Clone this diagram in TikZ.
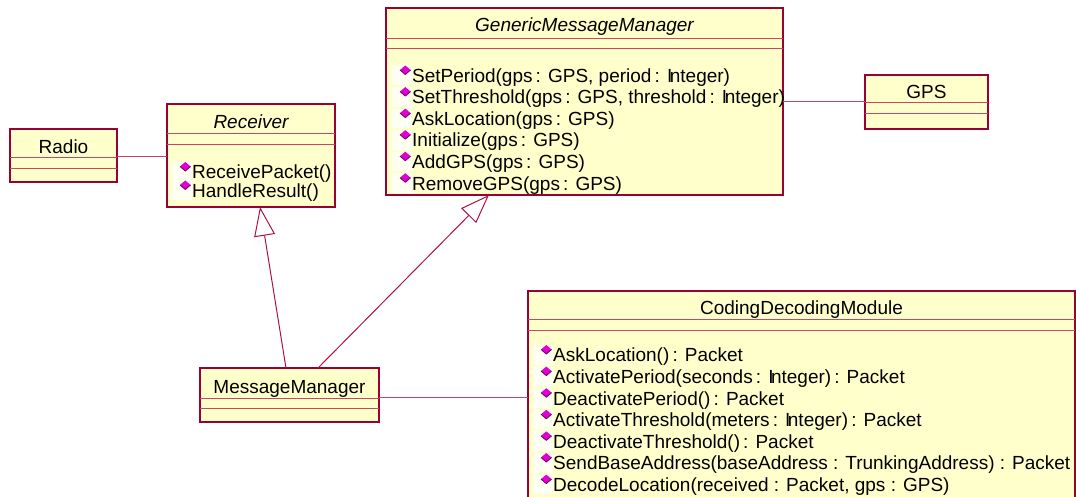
\documentclass[tikz,border=0pt]{standalone}
\usepackage{fontspec}
\setmainfont{Liberation Sans}
\usetikzlibrary{arrows.meta}
\definecolor{clsfill}{RGB}{255,255,204}
\definecolor{clsborder}{RGB}{153,0,51}
\definecolor{clsdiv}{RGB}{196,72,104}
\definecolor{conn}{RGB}{176,16,72}
\definecolor{opfill}{RGB}{225,0,210}
\definecolor{opedge}{RGB}{110,0,100}
\definecolor{iconbg}{RGB}{255,255,242}
\newcommand\Intg{I\kern-2.5pt nteger}
\newcommand\opicon[2]{%
  \fill[iconbg] (#1-20,#2-10) rectangle (#1,#2+9.5);
  \fill[opfill] (#1-6.7,#2-10) -- (#1-1.4,#2-5.5) -- (#1-6.7,#2-1) -- (#1-12,#2-5.5) -- cycle;
  \draw[opedge, line width=0.8pt, line join=round] (#1-12,#2-5.5) -- (#1-6.7,#2-1) -- (#1-1.4,#2-5.5);
}
\begin{document}
\begin{tikzpicture}[x=1pt,y=-1pt,
  cls/.style={draw=clsborder, fill=clsfill, line width=1.3pt, inner sep=0pt, outer sep=0pt, anchor=north west, rectangle},
  div/.style={draw=clsdiv, line width=1pt},
  title/.style={inner sep=0pt, text height=13.6pt, text depth=0pt, font=\fontsize{19}{22}\selectfont},
  ititle/.style={title, font=\fontsize{19}{22}\selectfont\itshape},
  op/.style={title, anchor=west},
  assoc/.style={draw=clsdiv, line width=1pt},
  gen/.style={draw=conn, line width=1pt, -{Triangle[open, length=29pt, width=21pt]}},
]
\useasboundingbox (0,0) rectangle (1076,497);
\clip (0,0) rectangle (1076,497);

% Radio
\node[cls, minimum width=107pt, minimum height=53pt] (radio) at (10,129) {};
\draw[div] (radio.west |- 0,158) -- (radio.east |- 0,158);
\draw[div] (radio.west |- 0,169) -- (radio.east |- 0,169);
\node[title] (radio-t) at (63.5,147) {Radio};

% Receiver
\node[cls, minimum width=168pt, minimum height=103pt] (receiver) at (167,104) {};
\draw[div] (receiver.west |- 0,134) -- (receiver.east |- 0,134);
\draw[div] (receiver.west |- 0,145) -- (receiver.east |- 0,145);
\node[ititle] (receiver-t) at (251,122) {Receiver};
\foreach \t [count=\i from 0] in {ReceivePacket(), HandleResult()} {
  \pgfmathsetmacro\yy{172+18.5*\i}
  \opicon{192}{\yy}
  \node[op] (receiver-op\i) at (192,\yy) {\t};
}

% GenericMessageManager
\node[cls, minimum width=397pt, minimum height=187pt] (gmm) at (386,8) {};
\draw[div] (gmm.west |- 0,39) -- (gmm.east |- 0,39);
\draw[div] (gmm.west |- 0,49) -- (gmm.east |- 0,49);
\node[ititle] (gmm-t) at (584.5,25) {GenericMessageManager};
\foreach \t [count=\i from 0] in {{SetPeriod(gps\,: GPS, period\,: \Intg)}, {SetThreshold(gps\,: GPS, threshold\,: \Intg)}, {AskLocation(gps\,: GPS)}, {Initialize(gps\,: GPS)}, {AddGPS(gps\,: GPS)}, {RemoveGPS(gps\,: GPS)}} {
  \pgfmathsetmacro\yy{75.5+21.55*\i}
  \opicon{412}{\yy}
  \node[op] (gmm-op\i) at (412,\yy) {\t};
}

% GPS
\node[cls, minimum width=123pt, minimum height=54pt] (gps) at (865,75) {};
\draw[div] (gps.west |- 0,103) -- (gps.east |- 0,103);
\draw[div] (gps.west |- 0,114) -- (gps.east |- 0,114);
\node[title] (gps-t) at (926.5,92) {GPS};

% MessageManager
\node[cls, minimum width=179pt, minimum height=54pt] (mm) at (200,368) {};
\draw[div] (mm.west |- 0,398) -- (mm.east |- 0,398);
\draw[div] (mm.west |- 0,408) -- (mm.east |- 0,408);
\node[title] (mm-t) at (289.5,387) {MessageManager};

% CodingDecodingModule
\node[cls, minimum width=547pt, minimum height=230pt] (cdm) at (528,291) {};
\draw[div] (cdm.west |- 0,319) -- (cdm.east |- 0,319);
\draw[div] (cdm.west |- 0,330) -- (cdm.east |- 0,330);
\node[title] (cdm-t) at (801.5,308) {CodingDecodingModule};
\foreach \t [count=\i from 0] in {{AskLocation()\,: Packet}, {ActivatePeriod(seconds\,: \Intg)\,: Packet}, {DeactivatePeriod()\,: Packet}, {ActivateThreshold(meters\,: \Intg)\,: Packet}, {DeactivateThreshold()\,: Packet}, {SendBaseAddress(baseAddress : TrunkingAddress) : Packet}, {DecodeLocation(received : Packet, gps : GPS)}} {
  \pgfmathsetmacro\yy{355+21.6*\i}
  \opicon{553}{\yy}
  \node[op] (cdm-op\i) at (553,\yy) {\t};
}

% connectors
\draw[assoc] ([yshift=-1.5pt]radio.east) -- ([yshift=-1.5pt]radio.east -| receiver.west);
\draw[assoc] (gmm.east |- gps.west) -- (gps.west);
\draw[assoc] ([yshift=-2pt]mm.east) -- ([yshift=-2pt]mm.east -| cdm.west);
\draw[gen] ([xshift=-3.5pt]mm.north) -- ([xshift=9pt]receiver.south);
\draw[gen] ([xshift=28.5pt]mm.north) -- ([xshift=-95.5pt]gmm.south);
\end{tikzpicture}
\end{document}
